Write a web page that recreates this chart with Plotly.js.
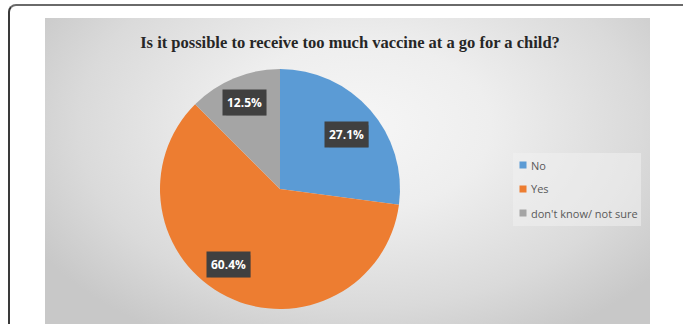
<!DOCTYPE html>
<html>
<head>
<meta charset="utf-8">
<script src="https://cdn.plot.ly/plotly-3.0.1.min.js"></script>
<style>
  html, body { margin: 0; padding: 0; background: #ffffff; }
  #wrap { position: relative; width: 683px; height: 324px; overflow: hidden; background: #fff; }
  #frame { position: absolute; left: 8px; top: 4px; width: 690px; height: 340px;
           border-left: 2px solid #3a3a3a; border-top: 2px solid #6a6a6a; border-top-left-radius: 8px; }
  #panel { position: absolute; left: 45px; top: 18px; width: 605px; height: 310px;
           background: radial-gradient(ellipse 62% 78% at 52% 35%, #f6f6f6 0%, #eeeeee 35%, #dadada 75%, #c8c8c8 100%); }
  #chart { position: absolute; left: 0; top: 0; width: 683px; height: 324px; }
</style>
</head>
<body>
<div id="wrap">
  <div id="frame"></div>
  <div id="panel"></div>
  <div id="chart"></div>
</div>
<script>
// ---- data ----
const categories = ["No", "Yes", "don't know/ not sure"];
const percents = [27.1, 60.4, 12.5];
const colors = ["#5B9BD5", "#ED7D31", "#A5A5A5"];
const titleText = "Is it possible to receive too much vaccine at a go for a child?";

// ---- layout constants ----
const W = 683, H = 324;
const cx = 280, cy = 189, R = 120;
const labelFrac = [0.72, 0.76, 0.78];
const labelAngleNudge = [2, 8, 0];
const boxW = 40, boxH = 22;

const pie = {
  type: "pie",
  labels: categories,
  values: percents,
  sort: false,
  direction: "clockwise",
  rotation: 0,
  marker: { colors: colors, line: { width: 0 } },
  textinfo: "none",
  hoverinfo: "label+percent",
  showlegend: false,
  domain: { x: [(cx - R) / W, (cx + R) / W], y: [(H - cy - R) / H, (H - cy + R) / H] }
};

const total = percents.reduce((a, b) => a + b, 0);
const annotations = [];
const shapes = [];
let cum = 0;
percents.forEach((v, i) => {
  const mid = (cum + v / 2) / total * 360 + labelAngleNudge[i];
  cum += v;
  const t = mid * Math.PI / 180;
  const px = cx + labelFrac[i] * R * Math.sin(t);
  const py = cy - labelFrac[i] * R * Math.cos(t);
  // shadow box
  shapes.push({
    type: "rect", xref: "paper", yref: "paper",
    x0: (px - boxW / 2 + 2) / W, x1: (px + boxW / 2 + 2) / W,
    y0: (H - py - boxH / 2 - 2) / H, y1: (H - py + boxH / 2 - 2) / H,
    fillcolor: "rgba(0,0,0,0.22)", line: { width: 0 }
  });
  annotations.push({
    x: px / W, y: (H - py) / H, xref: "paper", yref: "paper",
    xanchor: "center", yanchor: "middle",
    text: "<b>" + v.toFixed(1) + "%</b>", showarrow: false,
    font: { family: "Open Sans", size: 12, color: "#ffffff" },
    bgcolor: "#404040", borderpad: 4
  });
});

// manual legend
const legX = 523, legY0 = 165, legStep = 24;
shapes.push({
  type: "rect", xref: "paper", yref: "paper",
  x0: 513 / W, x1: 641 / W, y0: (H - 226) / H, y1: (H - 153) / H,
  fillcolor: "rgba(240,240,240,0.55)", line: { width: 0 }, layer: "below"
});
categories.forEach((c, i) => {
  const y = legY0 + i * legStep;
  shapes.push({
    type: "rect", xref: "paper", yref: "paper",
    x0: (legX - 3.5) / W, x1: (legX + 3.5) / W, y0: (H - y - 3.5) / H, y1: (H - y + 3.5) / H,
    fillcolor: colors[i], line: { width: 0 }
  });
  annotations.push({
    x: (legX + 6) / W, y: (H - y) / H, xref: "paper", yref: "paper",
    xanchor: "left", yanchor: "middle", text: c, showarrow: false,
    font: { family: "Open Sans", size: 11, color: "#595959" }
  });
});

const layout = {
  width: W, height: H,
  margin: { l: 0, r: 0, t: 0, b: 0 },
  paper_bgcolor: "rgba(0,0,0,0)",
  plot_bgcolor: "rgba(0,0,0,0)",
  title: {
    text: titleText,
    font: { family: "Liberation Serif", size: 16.5, weight: "bold", color: "#262626" },
    x: 350 / W, xanchor: "center", xref: "paper",
    y: 1 - 42 / H, yanchor: "middle", yref: "paper"
  },
  annotations: annotations,
  shapes: shapes
};

Plotly.newPlot("chart", [pie], layout, { displayModeBar: false, staticPlot: true });
</script>
</body>
</html>
